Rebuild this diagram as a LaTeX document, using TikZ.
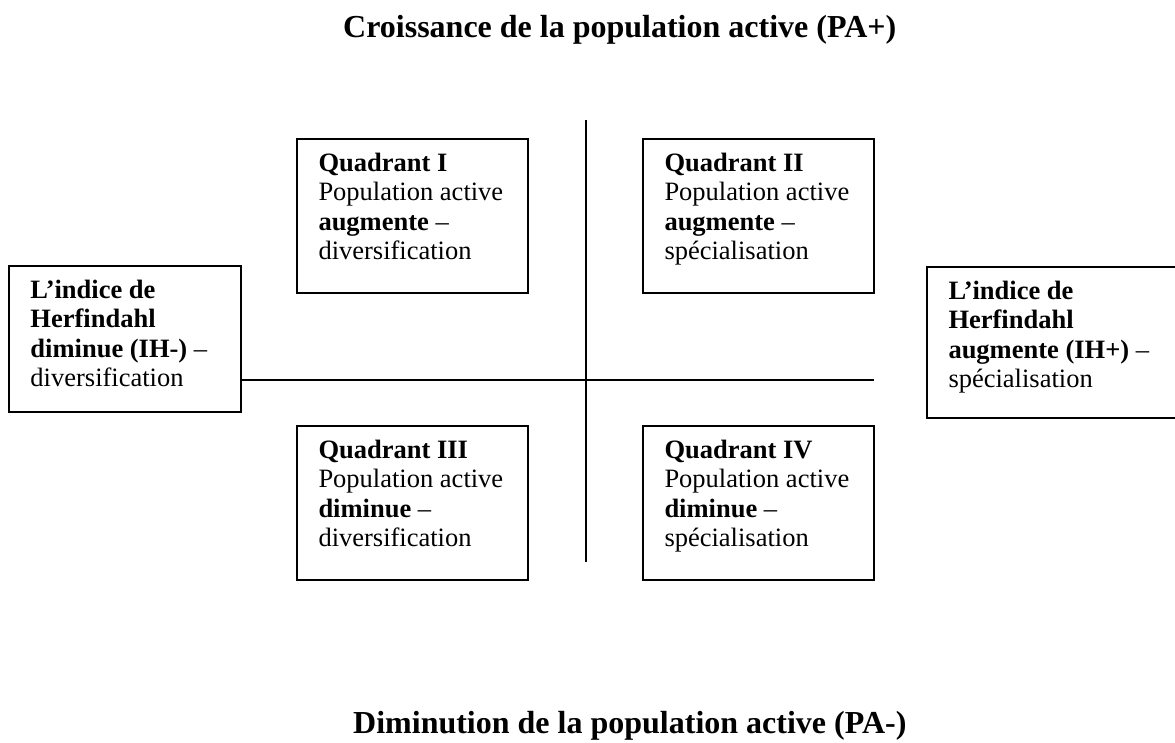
\documentclass[tikz,border=0pt]{standalone}
\usepackage{fontspec}
\setmainfont{Liberation Serif}
\newcommand{\boxtext}[3]{\parbox[c][#1][t]{#2}{\raggedright\rule{0pt}{32pt}#3}}
\begin{document}
\begin{tikzpicture}[x=1pt,y=-1pt,
  qbox/.style={draw, line width=1.5pt, rectangle, inner xsep=21.5pt, inner ysep=0pt,
    font=\fontsize{26.5}{29.5}\selectfont},
  ttl/.style={inner sep=0pt, font=\fontsize{32}{36}\selectfont\bfseries},
  axis/.style={line width=1.5pt}]
\useasboundingbox (0,0) rectangle (1175,742);
\node[ttl, anchor=base west] (top) at (343,37) {Croissance de la population active (PA+)};
\node[ttl, anchor=base west] (bot) at (353,733) {Diminution de la population active (PA-)};
\node[qbox] (q1) at (412.5,216)
  {\boxtext{154pt}{188pt}{\textbf{Quadrant I}\\Population active\\\textbf{augmente} --\\diversification}};
\node[qbox] (q2) at (758.5,216)
  {\boxtext{154pt}{188pt}{\textbf{Quadrant II}\\Population active\\\textbf{augmente} --\\spécialisation}};
\node[qbox] (q3) at (412.5,503)
  {\boxtext{154pt}{188pt}{\textbf{Quadrant III}\\Population active\\\textbf{diminue} --\\diversification}};
\node[qbox] (q4) at (758.5,503)
  {\boxtext{154pt}{188pt}{\textbf{Quadrant IV}\\Population active\\\textbf{diminue} --\\spécialisation}};
\node[qbox] (lft) at (125,339)
  {\boxtext{146pt}{189pt}{\textbf{L’indice de}\\\textbf{Herfindahl}\\\textbf{diminue (IH-)} --\\diversification}};
\node[qbox] (rgt) at (1057,342.5)
  {\boxtext{151pt}{217pt}{\textbf{L’indice de}\\\textbf{Herfindahl}\\\textbf{augmente (IH+)} --\\spécialisation}};
\coordinate (vt) at (586,120);
\coordinate (vb) at (586,562);
\coordinate (hr) at (874,380);
\draw[axis] (vt) -- (vb);
\draw[axis] (lft.east |- hr) -- (hr);
\end{tikzpicture}
\end{document}
